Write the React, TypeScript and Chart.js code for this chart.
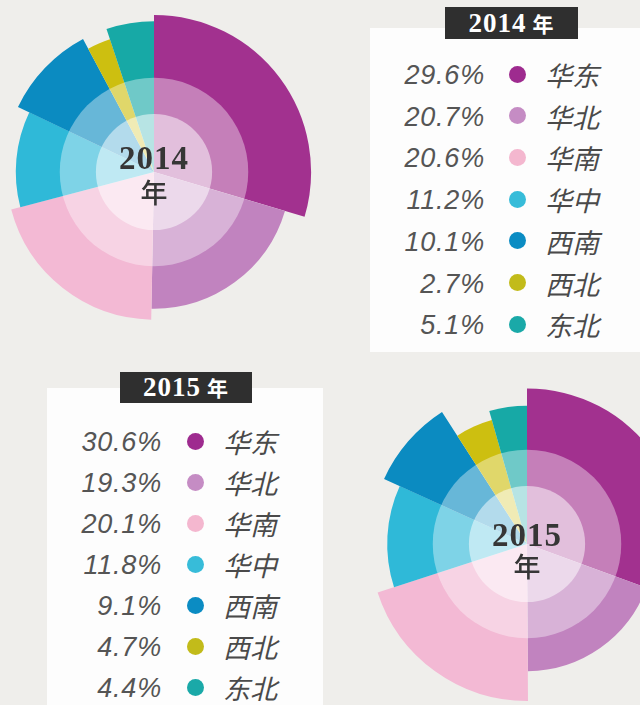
import React, { useEffect, useRef } from "react";
import { Chart, registerables } from "chart.js";

Chart.register(...registerables);

// ---------- data ----------
const regions = ["华东", "华北", "华南", "华中", "西南", "西北", "东北"];
const share2014 = [29.6, 20.7, 20.6, 11.2, 10.1, 2.7, 5.1];
const share2015 = [30.6, 19.3, 20.1, 11.8, 9.1, 4.7, 4.4];
// relative outer radius of each petal (max = 100)
const radius2014 = [100, 87, 94, 88, 96, 89, 96];
const radius2015 = [99, 81, 100, 89, 100, 82, 88];
const years = ["2014", "2015"];

// ---------- styles ----------
const sliceColors = ["#a2318f", "#c183bf", "#f3b9d4", "#2fb9d8", "#0b8bc1", "#cdbf10", "#17a9a6"];
const dotColors = ["#9e2b8f", "#c58cc4", "#f4b7cf", "#37bcd9", "#0b8cc3", "#c2bb1a", "#1aa9a8"];
const BG = "#efeeeb";

const rosePlugin = {
  id: "roseRadius",
  afterDatasetUpdate(chart: any, args: any, opts: any) {
    const meta = args.meta;
    const base = meta.controller.outerRadius;
    const rel: number[] = opts.values || [];
    meta.data.forEach((arc: any, i: number) => {
      arc.outerRadius = (base * (rel[i] ?? 100)) / 100;
    });
  },
  afterDatasetsDraw(chart: any, _args: any, _opts: any) {
    const meta = chart.getDatasetMeta(0);
    const arc0 = meta.data[0];
    if (!arc0) return;
    const base = meta.controller.outerRadius;
    const ctx = chart.ctx;
    const cx = arc0.x;
    const cy = arc0.y;
    ctx.save();
    ctx.fillStyle = "rgba(255,255,255,0.38)";
    ctx.beginPath();
    ctx.arc(cx, cy, base * 0.6, 0, Math.PI * 2);
    ctx.fill();
    ctx.fillStyle = "rgba(255,255,255,0.5)";
    ctx.beginPath();
    ctx.arc(cx, cy, base * 0.37, 0, Math.PI * 2);
    ctx.fill();
    ctx.restore();
  },
};

function RoseChart(props: {
  share: number[];
  radius: number[];
  cx: number;
  cy: number;
  year: string;
  digitDy: number;
  nianDy: number;
}) {
  const ref = useRef<HTMLCanvasElement | null>(null);
  const size = 340;
  useEffect(() => {
    if (!ref.current) return;
    const chart = new Chart(ref.current, {
      type: "pie",
      data: {
        labels: regions,
        datasets: [
          {
            data: props.share,
            backgroundColor: sliceColors,
            borderWidth: 0,
            hoverOffset: 0,
            offset: 0,
            radius: "92.4%",
          } as any,
        ],
      },
      options: {
        responsive: false,
        animation: false,
        events: [],
        layout: { padding: 0 },
        plugins: {
          legend: { display: false },
          tooltip: { enabled: false },
          roseRadius: { values: props.radius },
        } as any,
      },
      plugins: [rosePlugin],
    });
    return () => chart.destroy();
  }, []);
  return (
    <>
      <canvas
        ref={ref}
        width={size}
        height={size}
        style={{ position: "absolute", left: props.cx - size / 2, top: props.cy - size / 2, width: size, height: size }}
      />
      <div
        style={{
          position: "absolute",
          left: props.cx - 60,
          top: props.cy + props.digitDy - 18,
          width: 120,
          height: 36,
          textAlign: "center",
          fontFamily: "'Liberation Serif', 'DejaVu Serif', serif",
          fontWeight: 700,
          fontSize: 33,
          lineHeight: "36px",
          letterSpacing: 1,
          color: "#363636",
        }}
      >
        {props.year}
      </div>
      <div
        style={{
          position: "absolute",
          left: props.cx - 60,
          top: props.cy + props.nianDy - 15,
          width: 120,
          height: 30,
          textAlign: "center",
          fontFamily: "'Noto Sans CJK SC', sans-serif",
          fontWeight: 500,
          fontSize: 27,
          lineHeight: "30px",
          color: "#363636",
        }}
      >
        年
      </div>
    </>
  );
}

function Legend(props: {
  share: number[];
  box: { x: number; y: number; w: number; h: number };
  title: { x: number; y: number; w: number; h: number };
  year: string;
  pctRight: number;
  dotX: number;
  labelX: number;
  firstY: number;
  step: number;
}) {
  const { box, title } = props;
  return (
    <>
      <div style={{ position: "absolute", left: box.x, top: box.y, width: box.w, height: box.h, background: "#fdfdfd" }} />
      <div
        style={{
          position: "absolute",
          left: title.x,
          top: title.y,
          width: title.w,
          height: title.h,
          background: "#2f2f2f",
          color: "#ffffff",
          textAlign: "center",
          lineHeight: title.h + "px",
          fontFamily: "'Liberation Serif', 'DejaVu Serif', serif",
          fontWeight: 700,
          fontSize: 27,
          letterSpacing: 1,
        }}
      >
        {props.year}
        <span style={{ fontFamily: "'Noto Sans CJK SC', sans-serif", fontSize: 21, fontWeight: 700, marginLeft: 6 }}>年</span>
      </div>
      {regions.map((r, i) => {
        const cy = props.firstY + i * props.step;
        return (
          <React.Fragment key={r}>
            <div
              style={{
                position: "absolute",
                left: props.pctRight - 140,
                top: cy - 17,
                width: 140,
                height: 34,
                lineHeight: "34px",
                textAlign: "right",
                fontFamily: "'Liberation Sans', Arial, sans-serif",
                fontStyle: "italic",
                fontSize: 27,
                letterSpacing: 0.8,
                color: "#555555",
              }}
            >
              {props.share[i].toFixed(1) + "%"}
            </div>
            <div
              style={{
                position: "absolute",
                left: props.dotX - 8.5,
                top: cy - 9.5,
                width: 17,
                height: 17,
                borderRadius: "50%",
                background: dotColors[i],
              }}
            />
            <div
              style={{
                position: "absolute",
                left: props.labelX,
                top: cy - 18,
                height: 36,
                lineHeight: "36px",
                fontFamily: "'Noto Sans CJK SC', sans-serif",
                fontStyle: "italic",
                fontWeight: 400,
                fontSize: 27,
                color: "#4a4a4a",
                whiteSpace: "nowrap",
              }}
            >
              {r}
            </div>
          </React.Fragment>
        );
      })}
    </>
  );
}

export default function App() {
  return (
    <div
      style={{
        position: "absolute",
        left: 0,
        top: 0,
        width: 640,
        height: 705,
        overflow: "hidden",
        background: BG,
      }}
    >
      <RoseChart share={share2014} radius={radius2014} cx={154} cy={172} year={years[0]} digitDy={-14} nianDy={20} />
      <Legend
        share={share2014}
        year={years[0]}
        box={{ x: 370, y: 28, w: 270, h: 324 }}
        title={{ x: 445, y: 7, w: 133, h: 32 }}
        pctRight={485}
        dotX={517}
        labelX={545}
        firstY={75}
        step={41.7}
      />
      <Legend
        share={share2015}
        year={years[1]}
        box={{ x: 47, y: 388, w: 276, h: 317 }}
        title={{ x: 120, y: 372, w: 132, h: 31 }}
        pctRight={162}
        dotX={195}
        labelX={223}
        firstY={442}
        step={41}
      />
      <RoseChart share={share2015} radius={radius2015} cx={527} cy={544} year={years[1]} digitDy={-9} nianDy={22} />
    </div>
  );
}
